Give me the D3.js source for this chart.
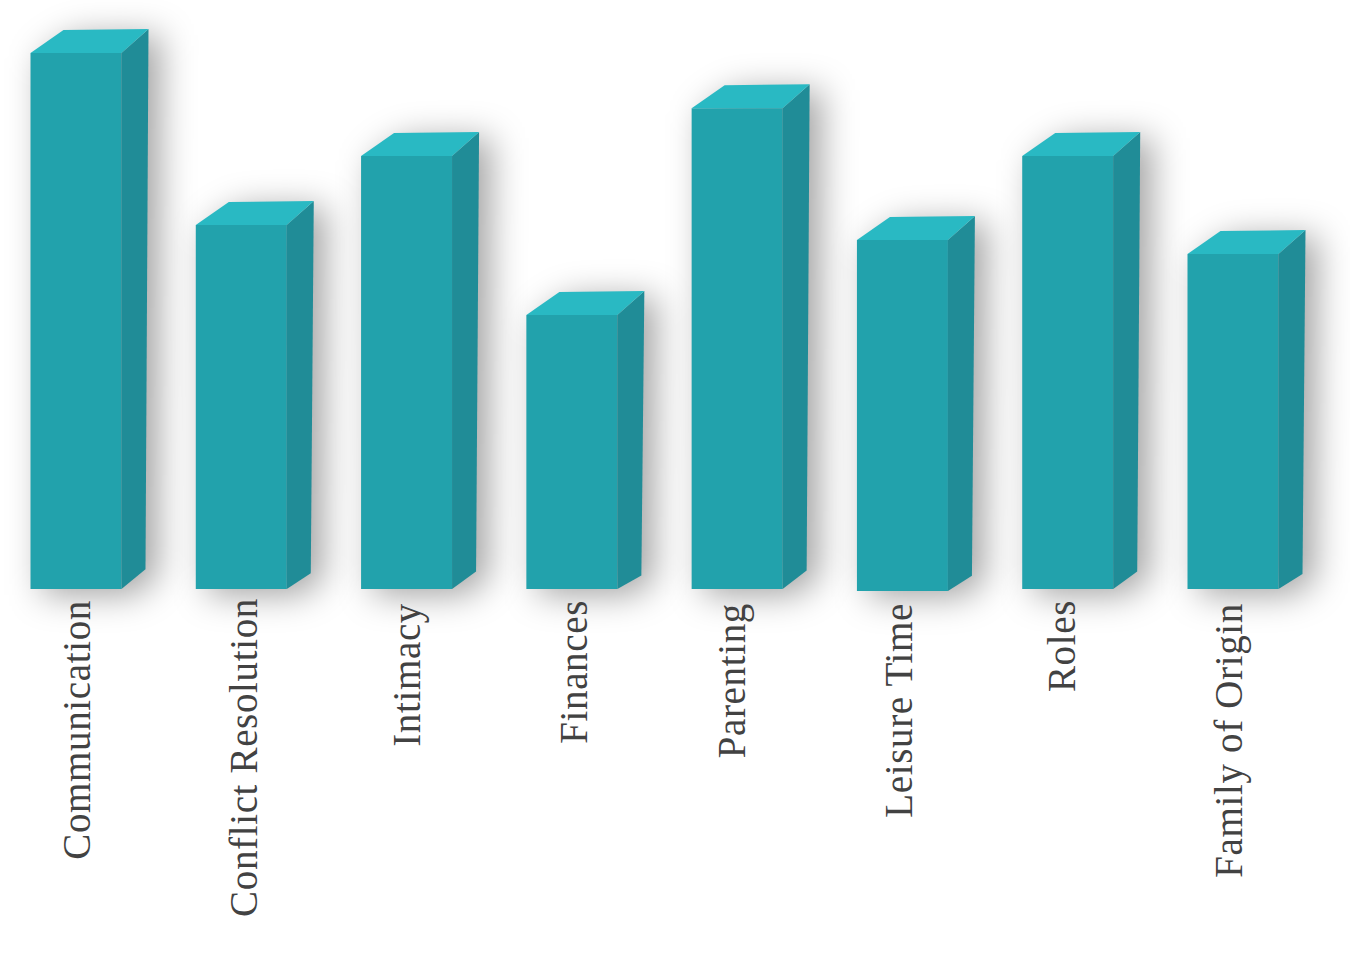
<!DOCTYPE html>
<html>
<head>
<meta charset="utf-8">
<script src="https://cdn.jsdelivr.net/npm/d3@7"></script>
<style>
	html, body { margin: 0; background: #fff; }
	svg { display: block; }
</style>
</head>
<body>
<svg id="chart" width="1350" height="960"></svg>
<script>
const categories = ['Communication', 'Conflict Resolution', 'Intimacy', 'Finances', 'Parenting', 'Leisure Time', 'Roles', 'Family of Origin']
const scores = [100, 67.9, 80.8, 51.1, 89.7, 65.1, 80.8, 62.5]

// the labels do not sit at one distance from their bars in the original
const labelInset = [59.5, 61, 59, 61, 53.5, 55, 53, 54]
const labelDrop = [600, 598, 603, 600, 603, 603, 600, 603]
// and the Leisure Time bar stands a little lower than the rest
const floorDrop = [0, 0, 0, 0, 0, 2, 0, 0]

const colors = { front: '#22a2ac', side: '#208c97', top: '#29b9c3', label: '#424242' }
const baseline = 589
const top100 = 53

const svg = d3.select('#chart')

const x = d3.scaleBand().domain(categories).range([30.5, 1278.5]).paddingInner(0.4495).paddingOuter(0)
const y = d3.scaleLinear().domain([0, 100]).range([baseline, top100])

const filter = svg.append('defs').append('filter').attr('id', 'soft')
	.attr('x', '-100%').attr('y', '-30%').attr('width', '300%').attr('height', '160%')
filter.append('feGaussianBlur').attr('stdDeviation', 17)

// the floor edge of the side face rises more on the taller bars
const floorRise = d => 7 + (baseline - y(d.score)) * 0.024

const outline = d => {
	const l = x(d.name), r = l + x.bandwidth(), t = y(d.score), b = baseline + d.floor
	return {
		front: [[l, t], [r, t], [r, b], [l, b]],
		side: [[r, t], [r + 27, t - 24], [r + 24, b - floorRise(d)], [r, b]],
		top: [[l, t], [l + 33, t - 23], [r + 27, t - 24], [r, t]]
	}
}
const path = pts => d3.line()(pts) + 'Z'

const data = categories.map((name, i) => ({
	name,
	score: scores[i],
	inset: labelInset[i],
	drop: labelDrop[i],
	floor: floorDrop[i]
}))
const bars = svg.selectAll('g.bar').data(data).enter().append('g').attr('class', 'bar')

// shadows go first so that no bar is covered by its neighbour's
svg.selectAll('path.shadow').data(data).enter().insert('path', 'g.bar')
	.attr('class', 'shadow')
	.attr('d', d => {
		const o = outline(d)
		return path([o.top[0], o.top[1], o.top[2], o.side[2], o.front[2], o.front[3]])
	})
	.attr('transform', 'translate(12, 6)')
	.attr('fill', '#000')
	.attr('fill-opacity', 0.36)
	.attr('filter', 'url(#soft)')

bars.append('path').attr('d', d => path(outline(d).front)).attr('fill', colors.front)
bars.append('path').attr('d', d => path(outline(d).side)).attr('fill', colors.side)
bars.append('path').attr('d', d => path(outline(d).top)).attr('fill', colors.top)

svg.selectAll('text.label').data(data).enter().append('text')
	.attr('class', 'label')
	.attr('transform', d => `translate(${x(d.name) + d.inset}, ${d.drop}) rotate(-90)`)
	.attr('text-anchor', 'end')
	.attr('font-family', '"Liberation Serif", serif')
	.attr('font-size', 39)
	.attr('letter-spacing', 0.65)
	.attr('fill', colors.label)
	.text(d => d.name)
</script>
</body>
</html>
